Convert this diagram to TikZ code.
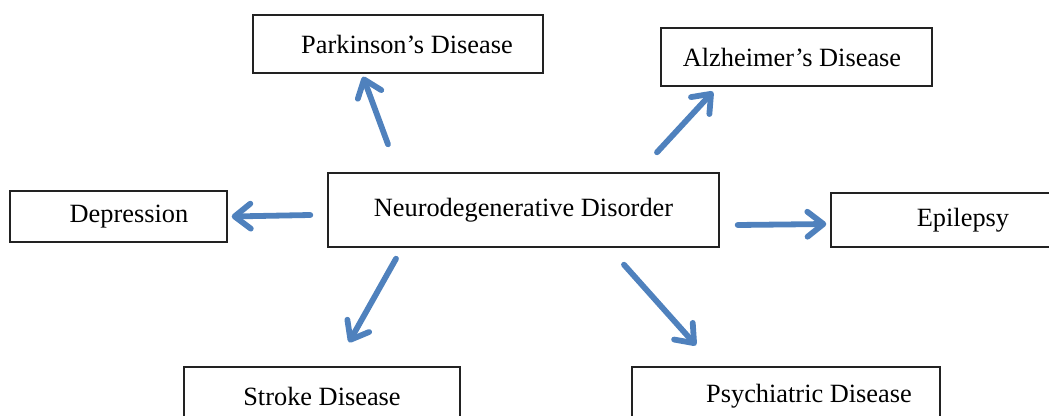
\documentclass[tikz,border=0pt]{standalone}
\usepackage{fontspec}
\setmainfont{Liberation Serif}
\usetikzlibrary{arrows.meta, positioning, calc}
\definecolor{arrowBlue}{HTML}{4F81BD}
\definecolor{boxLine}{HTML}{222222}
\tikzset{
  arrowB/.style={-{Straight Barb[length=3.2mm, width=5mm, round]}, arrowBlue,
                 line width=3.3pt, line cap=round},
  boxD/.style={rectangle, draw=boxLine, fill=white, line width=0.8pt,
               align=center, font=\fontsize{15}{18}\selectfont, inner sep=4pt},
}

\begin{document}
\begin{tikzpicture}[x=0.02cm, y=-0.02cm]
    \useasboundingbox (0,0) rectangle (1049,416);
    % boxes
    \node[boxD, minimum width=7.82cm, minimum height=1.48cm] (neuro) at (523.5,210) {Neurodegenerative Disorder};
    \node[boxD, minimum width=5.8cm, minimum height=1.16cm] (park) at (398,44) {\hspace*{0.36cm}Parkinson’s Disease};
    \node[boxD, minimum width=5.42cm, minimum height=1.16cm] (alz) at (796.5,57) {Alzheimer’s Disease\hspace*{0.18cm}};
    \node[boxD, minimum width=4.34cm, minimum height=1.02cm] (dep) at (118.5,216.5) {\hspace*{0.42cm}Depression};
    \node[boxD, minimum width=4.98cm, minimum height=1.08cm] (epi) at (955.5,220) {\hspace*{0.3cm}Epilepsy};
    \node[boxD, minimum width=5.52cm, minimum height=1.16cm] (stroke) at (322,396) {Stroke Disease};
    \node[boxD, minimum width=6.16cm, minimum height=1.16cm] (psych) at (786,396) {\hspace*{0.92cm}Psychiatric Disease};
    % arrows
    \draw[arrowB] ($(neuro.north)+(-135.5,-28)$) -- ($(park.south)+(-35,3)$);
    \draw[arrowB] ($(neuro.north)+(133.5,-20)$) -- ($(alz.south)+(-83.5,5)$);
    \draw[arrowB] ($(neuro.west)+(-17,5)$) -- ($(dep.east)+(4,0)$);
    \draw[arrowB] ($(neuro.east)+(18,15)$) -- ($(epi.west)+(-4,4)$);
    \draw[arrowB] ($(neuro.south)+(-127.5,11)$) -- ($(stroke.north)+(27,-24)$);
    \draw[arrowB] ($(neuro.south)+(100.5,17)$) -- ($(psych.north)+(-90,-21)$);
  \end{tikzpicture}
\end{document}
